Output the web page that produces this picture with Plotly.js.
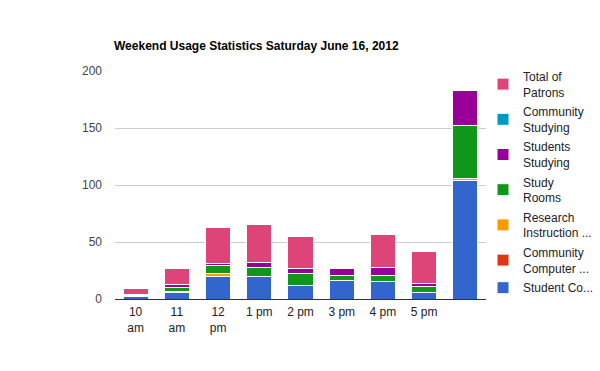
<!DOCTYPE html>
<html>
<head>
<meta charset="utf-8">
<script src="https://cdn.plot.ly/plotly-3.0.1.min.js"></script>
<style>html,body{margin:0;padding:0;background:#fff;}#chart{width:600px;height:371px;}</style>
</head>
<body>
<div id="chart"></div>
<script>
var categories = ['10<br>am', '11<br>am', '12<br>pm', '1 pm', '2 pm', '3 pm', '4 pm', '5 pm', ' '];
var studentComputers   = [2, 6, 20, 20, 12, 16, 15, 6, 104];
var communityComputers = [0, 0, 0, 0, 0, 0, 0, 0, 0];
var researchInstruction = [0, 1, 2, 0, 0, 0, 0, 0, 2];
var studyRooms         = [1, 3, 7, 8, 10, 5, 6, 5, 46];
var studentsStudying   = [1, 3, 2, 4, 5, 6, 7, 3, 31];
var communityStudying  = [0, 0, 0, 0, 0, 0, 0, 0, 0];
var totalPatrons       = [5, 14, 32, 33, 28, 0, 29, 28, 0];
var yTicks = [0, 50, 100, 150, 200];

var series = [
  {name: 'Student Co...', y: studentComputers, color: '#3366cc'},
  {name: 'Community<br>Computer ...', y: communityComputers, color: '#dc3912'},
  {name: 'Research<br>Instruction ...', y: researchInstruction, color: '#ff9900'},
  {name: 'Study<br>Rooms', y: studyRooms, color: '#109618'},
  {name: 'Students<br>Studying', y: studentsStudying, color: '#990099'},
  {name: 'Community<br>Studying', y: communityStudying, color: '#0099c6'},
  {name: 'Total of<br>Patrons', y: totalPatrons, color: '#dd4477'}
];

var traces = series.map(function (s, i) {
  return {
    type: 'bar',
    name: s.name,
    legendgroup: 'g' + i,
    legendrank: 1000 - i,
    x: categories,
    y: s.y,
    marker: {color: s.color, line: {color: '#ffffff', width: 1}},
    hoverinfo: 'none'
  };
});

var font = 'Arial, "Liberation Sans", sans-serif';
var layout = {
  width: 600,
  height: 371,
  margin: {l: 115, r: 114, t: 71, b: 72, pad: 0, autoexpand: false},
  paper_bgcolor: '#ffffff',
  plot_bgcolor: '#ffffff',
  barmode: 'stack',
  bargap: 0.39,
  font: {family: font, size: 12, color: '#222222'},
  title: {
    text: '<b>Weekend Usage Statistics Saturday June 16, 2012</b>',
    font: {family: font, size: 12, color: '#000000'},
    x: 114 / 600, xref: 'container', xanchor: 'left',
    y: 1 - 46 / 371, yref: 'container', yanchor: 'middle'
  },
  xaxis: {
    type: 'category',
    categoryorder: 'array',
    categoryarray: categories,
    showgrid: false,
    showline: true,
    linecolor: '#333333',
    linewidth: 1,
    ticks: '',
    ticklabelstandoff: 2,
    tickfont: {family: font, size: 12, color: '#222222'},
    fixedrange: true
  },
  yaxis: {
    range: [0, 200],
    tickvals: yTicks,
    ticktext: yTicks.map(String),
    showgrid: true,
    gridcolor: '#cccccc',
    gridwidth: 1,
    zeroline: false,
    showline: false,
    ticks: '',
    ticklabelstandoff: 12,
    tickfont: {family: font, size: 12, color: '#444444'},
    fixedrange: true
  },
  legend: {
    traceorder: 'grouped',
    tracegroupgap: 1,
    x: 483 / 600, xref: 'container', xanchor: 'left',
    y: 1 - 62 / 371, yref: 'container', yanchor: 'top',
    maxheight: 300,
    font: {family: font, size: 12, color: '#222222'},
    bgcolor: 'rgba(0,0,0,0)',
    itemclick: false, itemdoubleclick: false
  },
  showlegend: true
};

Plotly.newPlot('chart', traces, layout, {staticPlot: true, displayModeBar: false});
</script>
</body>
</html>
